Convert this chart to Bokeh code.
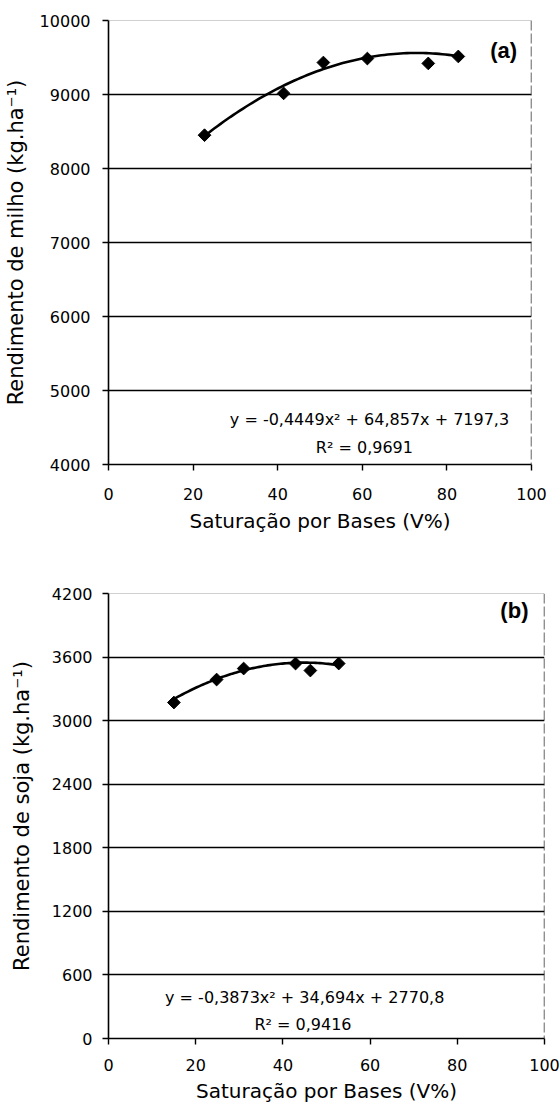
import numpy as np
from bokeh.plotting import figure
from bokeh.models import Range1d, FixedTicker, Span, Label
from bokeh.layouts import column
from bokeh.embed import file_html
from bokeh.resources import INLINE

# ---- data ----
milho_v = [22.7, 41.4, 50.8, 61.2, 75.6, 82.7]
milho_y = [8450, 9015, 9432, 9486, 9420, 9514]
milho_coef = [-0.4449, 64.857, 7197.3]
milho_eq = "y = -0,4449x\u00b2 + 64,857x + 7197,3"
milho_r2 = "R\u00b2 = 0,9691"

soja_v = [15.0, 24.8, 31.0, 42.9, 46.3, 52.8]
soja_y = [3171, 3388, 3492, 3539, 3473, 3539]
soja_coef = [-0.3873, 34.694, 2770.8]
soja_eq = "y = -0,3873x\u00b2 + 34,694x + 2770,8"
soja_r2 = "R\u00b2 = 0,9416"

x_ticks = [0, 20, 40, 60, 80, 100]
milho_ticks = [4000, 5000, 6000, 7000, 8000, 9000, 10000]
soja_ticks = [0, 600, 1200, 1800, 2400, 3000, 3600, 4200]

x_title = "Saturação por Bases (V%)"
milho_title = "Rendimento de milho (kg.ha\u207b\u00b9)"
soja_title = "Rendimento de soja (kg.ha\u207b\u00b9)"

FONT = "DejaVu Sans"


def panel(height, top, frame_h, right_b, ymin, ymax, yticks, ytitle,
          vx, vy, coef, eq, r2, eq_pos, r2_pos, tag, tag_pos,
          xlab_standoff, xtitle_standoff, ylab_standoff, ytitle_standoff):
    p = figure(width=560, height=height, output_backend="svg",
               toolbar_location=None, x_range=Range1d(0, 100),
               y_range=Range1d(ymin, ymax),
               min_border_left=107, min_border_right=right_b,
               min_border_top=top,
               min_border_bottom=height - top - frame_h,
               frame_height=frame_h, frame_width=560 - 107 - right_b)
    p.outline_line_color = None
    p.background_fill_color = "white"
    p.border_fill_color = "white"
    p.xgrid.visible = False
    p.ygrid.ticker = FixedTicker(ticks=yticks[:-1])
    p.ygrid.grid_line_color = "black"
    p.ygrid.grid_line_width = 1.6

    for ax in (p.xaxis[0], p.yaxis[0]):
        ax.axis_line_color = "black"
        ax.axis_line_width = 1.6
        ax.major_tick_line_color = "black"
        ax.major_tick_line_width = 1.4
        ax.major_tick_out = 6
        ax.major_tick_in = 0
        ax.minor_tick_line_color = None
        ax.major_label_text_font = FONT
        ax.major_label_text_font_size = "16px"
        ax.major_label_text_color = "black"
        ax.axis_label_text_font = FONT
        ax.axis_label_text_font_size = "20px"
        ax.axis_label_text_font_style = "normal"
        ax.axis_label_text_color = "black"
    p.yaxis.axis_label_text_font_size = "21px"
    p.xaxis.ticker = FixedTicker(ticks=x_ticks)
    p.yaxis.ticker = FixedTicker(ticks=yticks)
    p.xaxis.axis_label = x_title
    p.yaxis.axis_label = ytitle
    p.xaxis.major_label_standoff = xlab_standoff
    p.xaxis.axis_label_standoff = xtitle_standoff
    p.yaxis.major_label_standoff = ylab_standoff
    p.yaxis.axis_label_standoff = ytitle_standoff

    # top (dotted) and right (dashed) borders
    p.add_layout(Span(location=ymax, dimension="width", line_color="#444444",
                      line_width=1, line_dash="1 1"))
    p.add_layout(Span(location=100, dimension="height", line_color="#222222",
                      line_width=1.4, line_dash="10 3"))

    # trend line from the fitted equation
    xs = np.linspace(min(vx), max(vx), 80)
    ys = coef[0] * xs ** 2 + coef[1] * xs + coef[2]
    p.line(xs, ys, line_color="black", line_width=2.6)
    p.scatter(vx, vy, marker="square", angle=np.pi / 4, size=9,
              fill_color="black", line_color="black")

    p.add_layout(Label(x=eq_pos[0], y=eq_pos[1], text=eq, text_font=FONT,
                       text_font_size="16px", text_align="center",
                       text_baseline="middle", text_color="black"))
    p.add_layout(Label(x=r2_pos[0], y=r2_pos[1], text=r2, text_font=FONT,
                       text_font_size="16px", text_align="center",
                       text_baseline="middle", text_color="black"))
    p.add_layout(Label(x=tag_pos[0], y=tag_pos[1], text=tag,
                       text_font="Liberation Sans",
                       text_font_style="bold", text_font_size="22px",
                       text_align="center", text_baseline="middle",
                       text_color="black"))
    return p


p1 = panel(575, 20, 444, 30, 4000, 10000, milho_ticks, milho_title,
           milho_v, milho_y, milho_coef, milho_eq, milho_r2,
           (61.7, 4610), (60.5, 4230), "(a)", (93.4, 9600),
           17, 6, 12, 9)
p2 = panel(537, 18, 445, 17, 0, 4200, soja_ticks, soja_title,
           soja_v, soja_y, soja_coef, soja_eq, soja_r2,
           (45.0, 387), (44.6, 132), "(b)", (93.1, 4040),
           14, 5, 10, 15)

layout = column(p1, p2, spacing=0)
open("out.html", "w").write(file_html(layout, INLINE))
